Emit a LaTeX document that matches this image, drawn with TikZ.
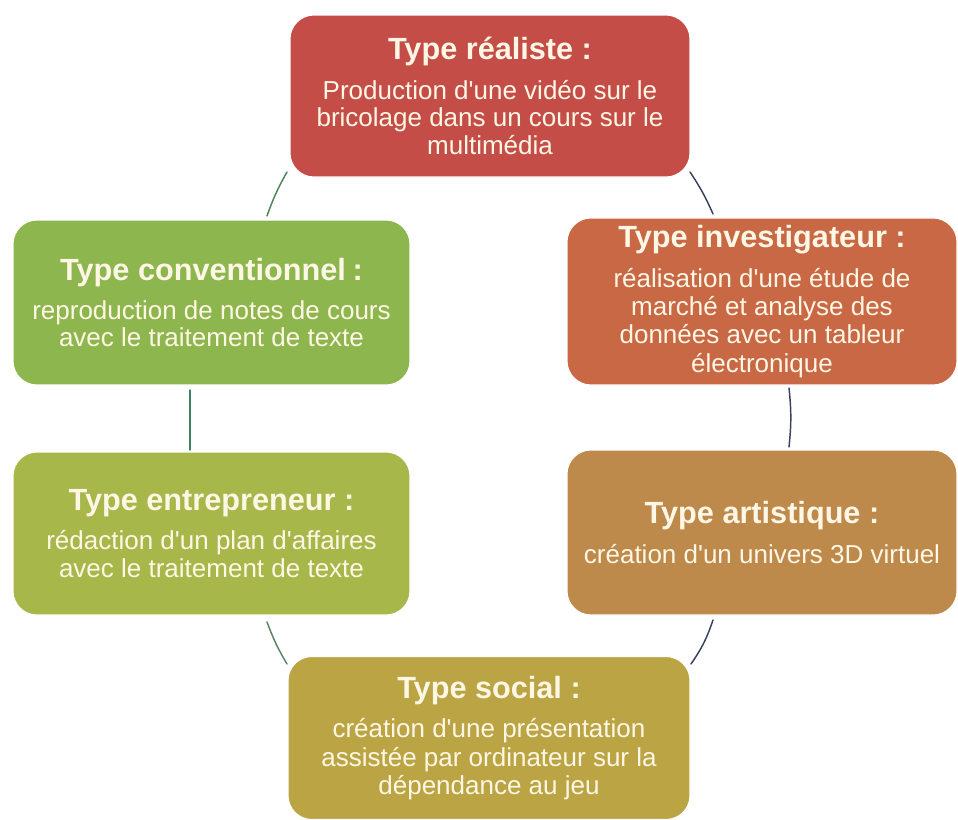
\documentclass[tikz,border=0pt]{standalone}
\usepackage{fontspec}
\setmainfont{Liberation Sans}[Ligatures=TeXOff]
\definecolor{cRed}{HTML}{C54D48}
\definecolor{cInv}{HTML}{C86844}
\definecolor{cConv}{HTML}{8EB64E}
\definecolor{cEntr}{HTML}{A8B74A}
\definecolor{cArt}{HTML}{BE8A4C}
\definecolor{cSoc}{HTML}{BBA444}
\definecolor{cText}{HTML}{FFF7E6}
\definecolor{cLeft}{HTML}{4E8458}
\definecolor{cRight}{HTML}{3A4262}
\newcommand\titlef{\fontsize{23}{27}\selectfont\bfseries}
\newcommand\bodyf{\fontsize{19.5}{20.6}\selectfont}
\begin{document}
\begin{tikzpicture}[x=0.75pt,y=-0.75pt,
  box/.style={rectangle, rounded corners=18pt, draw=white, line width=0.8pt,
    inner sep=0pt, text=cText, align=center, font=\bodyf},
  conn/.style={line width=1.1pt, line cap=round}]
\useasboundingbox (0,0) rectangle (958,819);
\fill[white] (0,0) rectangle (958,819);

\node[box, fill=cRed, minimum width=300pt, minimum height=121.5pt] (top) at (490,96)
  {{\titlef Type réaliste :}\\[9pt]
   Production d'une vidéo sur le\\ bricolage dans un cours sur le\\ multimédia};
\node[box, fill=cInv, minimum width=292.5pt, minimum height=125.25pt] (inv) at (762,301.5)
  {{\titlef Type investigateur :}\\[9pt]
   réalisation d'une étude de\\[0.6pt] marché et analyse des\\[0.6pt] données avec un tableur\\[0.6pt] électronique};
\node[box, fill=cConv, minimum width=297.75pt, minimum height=123.75pt] (conv) at (211.5,302.5)
  {{\titlef Type conventionnel\hspace{5pt}:}\\[9pt]
   reproduction de notes de cours\\ avec le traitement de texte};
\node[box, fill=cEntr, minimum width=297.75pt, minimum height=122.25pt] (entr) at (211.5,533.5)
  {{\titlef Type entrepreneur :}\\[9pt]
   rédaction d'un plan d'affaires\\ avec le traitement de texte};
\node[box, fill=cArt, minimum width=292.5pt, minimum height=123.75pt] (art) at (762,532.5)
  {{\titlef Type artistique :}\\[9pt]
   création d'un univers 3D virtuel};
\node[box, fill=cSoc, minimum width=301.5pt, minimum height=122.25pt] (soc) at (489,738)
  {{\titlef Type social :}\\[9pt]
   création d'une présentation\\[0.6pt] assistée par ordinateur sur la\\[0.6pt] dépendance au jeu};

\coordinate (a1) at (287,172); \coordinate (a2) at (267,216);
\coordinate (b1) at (690,172); \coordinate (b2) at (713,214);
\coordinate (c1) at (190,390); \coordinate (c2) at (190,450);
\coordinate (d1) at (789,388); \coordinate (d2) at (789,447);
\coordinate (e1) at (267,622); \coordinate (e2) at (287,664);
\coordinate (f1) at (713,620); \coordinate (f2) at (691,664);

\draw[conn, cLeft] (a1) to[bend right=5] (a2);
\draw[conn, cRight] (b1) to[bend left=5] (b2);
\draw[conn, cLeft!80!teal] (c1) -- (c2);
\draw[conn, cRight] (d1) to[bend left=6] (d2);
\draw[conn, cLeft!70!gray] (e1) to[bend right=5] (e2);
\draw[conn, cRight] (f1) to[bend left=8] (f2);
\end{tikzpicture}
\end{document}
